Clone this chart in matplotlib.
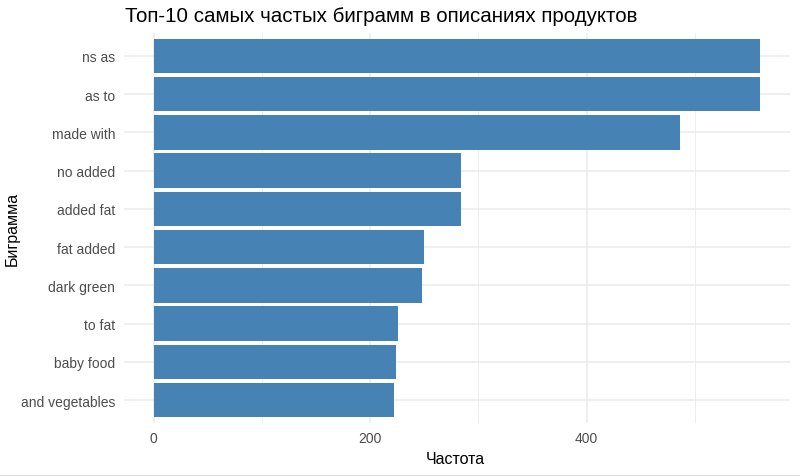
import matplotlib
matplotlib.use("Agg")
import matplotlib.pyplot as plt
from matplotlib.lines import Line2D

plt.rcParams['font.family'] = ['Liberation Sans', 'DejaVu Sans']

bigrams = ["ns as", "as to", "made with", "no added", "added fat",
           "fat added", "dark green", "to fat", "baby food", "and vegetables"]
counts = [560, 560, 486, 284, 284, 250, 248, 226, 224, 222]
xticks = [0, 200, 400]
minor_xticks = [100, 300, 500]

W, H = 800, 477
fig = plt.figure(figsize=(W / 100, H / 100), dpi=100)
left, right, top, bottom = 123.5, 790, 34, 424
ax = fig.add_axes([left / W, 1 - bottom / H, (right - left) / W, (bottom - top) / H])

n = len(bigrams)
ypos = list(range(n - 1, -1, -1))
ax.barh(ypos, counts, height=0.9, color="#4682B4", zorder=3)

ax.set_ylim(-0.6, n - 1 + 0.6)
xmax = max(counts)
ax.set_xlim(-0.05 * xmax, xmax * 1.05)
ax.set_yticks(ypos)
ax.set_yticklabels(bigrams)
ax.set_xticks(xticks)
ax.set_xticks(minor_xticks, minor=True)

ax.grid(True, which="major", color="#EBEBEB", linewidth=1.1, zorder=0)
ax.grid(True, which="minor", axis="x", color="#EBEBEB", linewidth=0.6, zorder=0)
for s in ax.spines.values():
    s.set_visible(False)
ax.tick_params(axis="both", which="both", length=0, labelsize=10, labelcolor="#4D4D4D")
ax.tick_params(axis="y", pad=6)
ax.tick_params(axis="x", pad=6)

ax.set_xlabel("Частота", fontsize=11.5, color="black")
ax.set_ylabel("Биграмма", fontsize=11.5, color="black")
ax.xaxis.set_label_coords((455 - left) / (right - left), 1 - (460 - top) / (bottom - top))
ax.yaxis.set_label_coords((12 - left) / (right - left), 1 - (229 - top) / (bottom - top))
ax.xaxis.label.set_va("center")
ax.yaxis.label.set_va("center")
fig.text(left / W + 0.002, 1 - 17 / H, "Топ-10 самых частых биграмм в описаниях продуктов",
         fontsize=14.8, ha="left", va="center")

fig.add_artist(Line2D([0, 1], [1 - 475.5 / H] * 2, color="#E0E0E0", linewidth=1.0,
                      transform=fig.transFigure))

fig.savefig("out.png", dpi=100)
